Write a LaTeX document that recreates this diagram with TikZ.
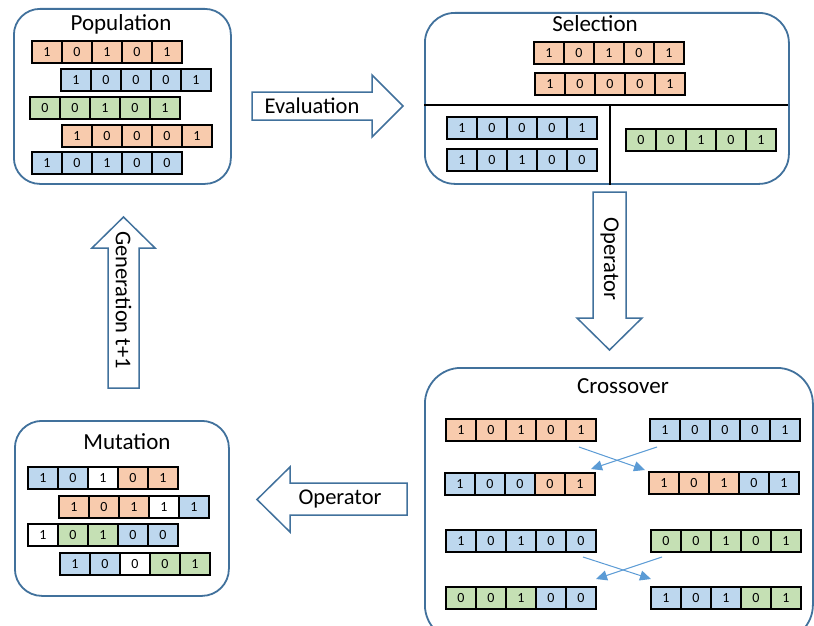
\documentclass[tikz,border=0pt]{standalone}
\usepackage{fontspec}
\setmainfont{Carlito}
\usetikzlibrary{arrows.meta}
\definecolor{cor}{HTML}{F8CBAD}
\definecolor{cbl}{HTML}{BDD7EE}
\definecolor{cgr}{HTML}{C5E0B4}
\definecolor{cwh}{HTML}{FFFFFF}
\definecolor{frame}{HTML}{41719C}
\definecolor{xarrow}{HTML}{5B9BD5}
\newcommand\chromo[4]{%
  \foreach \cl/\dg [count=\i] in {#4}{%
    \node[cell, fill=\cl] (#1-\i) at ({#2+15+30*(\i-1)},{#3+11}) {\dg};
  }%
}
\begin{document}
\begin{tikzpicture}[x=1pt,y=-1pt,
 cell/.style={draw=black, line width=1.6pt, minimum width=30pt, minimum height=22pt, inner sep=0pt, font=\fontsize{14}{15}\selectfont},
 panel/.style={draw=frame, line width=1.8pt, fill=white, anchor=north west, inner sep=0pt},
 title/.style={font=\fontsize{23}{26}\selectfont, inner sep=0pt},
 arrowlabel/.style={font=\fontsize{22.5}{25}\selectfont, inner sep=0pt},
 blockarrow/.style={draw=frame, line width=1.5pt, fill=white, line join=miter},
 xover/.style={draw=xarrow, line width=1pt, -{Triangle[length=11pt,width=10pt]}},
 divider/.style={draw=black, line width=2pt}]
\useasboundingbox (0,0) rectangle (814,626);
\clip (0,0) rectangle (814,626);

% panels
\node[panel, rounded corners=26pt, minimum width=217pt, minimum height=175pt] (pop) at (13,8) {};
\node[panel, rounded corners=30pt, minimum width=364pt, minimum height=171pt] (sel) at (424,12) {};
\node[panel, rounded corners=36pt, minimum width=388pt, minimum height=273pt] (cro) at (424,367) {};
\node[panel, rounded corners=27pt, minimum width=214pt, minimum height=175pt] (mut) at (14,420) {};

\node[title] (poptitle) at (121,24) {Population};
\node[title] (seltitle) at (595,24) {Selection};
\node[title] (crotitle) at (623,386) {Crossover};
\node[title] (muttitle) at (127,442) {Mutation};

% selection dividers
\coordinate (divl) at (424,104.5);
\coordinate (divr) at (788,104.5);
\coordinate (divm) at (610,104.5);
\draw[divider] (divl) -- (divr);
\draw[divider] (divm) -- (divm |- sel.south);

% block arrows
\draw[blockarrow] (252,92) -- (372,92) -- (372,75) -- (403,106) -- (372,137) -- (372,120) -- (252,120) -- cycle;
\node[arrowlabel] (evallabel) at (312,106) {Evaluation};

\draw[blockarrow] (108,388) -- (108,248) -- (92,248) -- (123.5,217) -- (155,248) -- (139,248) -- (139,388) -- cycle;
\node[arrowlabel, rotate=-90] (genlabel) at (123.5,300) {Generation t+1};

\draw[blockarrow] (593,192) -- (626,192) -- (626,318) -- (642,318) -- (609.5,350) -- (577,318) -- (593,318) -- cycle;
\node[arrowlabel, rotate=-90] (oplabel1) at (609.5,259) {Operator};

\draw[blockarrow] (407,483) -- (290,483) -- (290,467) -- (257,499.5) -- (290,532) -- (290,515) -- (407,515) -- cycle;
\node[arrowlabel] (oplabel2) at (340,499) {Operator};

% population
\chromo{p1}{32}{41}{cor/1,cor/0,cor/1,cor/0,cor/1}
\chromo{p2}{61}{69}{cbl/1,cbl/0,cbl/0,cbl/0,cbl/1}
\chromo{p3}{30}{97}{cgr/0,cgr/0,cgr/1,cgr/0,cgr/1}
\chromo{p4}{62}{125}{cor/1,cor/0,cor/0,cor/0,cor/1}
\chromo{p5}{32}{152}{cbl/1,cbl/0,cbl/1,cbl/0,cbl/0}

% selection
\chromo{s1}{534}{42}{cor/1,cor/0,cor/1,cor/0,cor/1}
\chromo{s2}{535}{73}{cor/1,cor/0,cor/0,cor/0,cor/1}
\chromo{s3}{447}{117}{cbl/1,cbl/0,cbl/0,cbl/0,cbl/1}
\chromo{s4}{447}{149}{cbl/1,cbl/0,cbl/1,cbl/0,cbl/0}
\chromo{s5}{626}{129}{cgr/0,cgr/0,cgr/1,cgr/0,cgr/1}

% crossover
\chromo{c1}{446}{419}{cor/1,cor/0,cor/1,cor/0,cor/1}
\chromo{c2}{650}{419}{cbl/1,cbl/0,cbl/0,cbl/0,cbl/1}
\chromo{c3}{445}{473}{cbl/1,cbl/0,cbl/0,cor/0,cor/1}
\chromo{c4}{649}{472}{cor/1,cor/0,cor/1,cbl/0,cbl/1}
\chromo{c5}{446}{530}{cbl/1,cbl/0,cbl/1,cbl/0,cbl/0}
\chromo{c6}{651}{530}{cgr/0,cgr/0,cgr/1,cgr/0,cgr/1}
\chromo{c7}{446}{587}{cgr/0,cgr/0,cgr/1,cbl/0,cbl/0}
\chromo{c8}{651}{587}{cbl/1,cbl/0,cbl/1,cgr/0,cgr/1}

\coordinate (a1s) at (579,447); \coordinate (a1e) at (645,470);
\coordinate (a2s) at (657,447); \coordinate (a2e) at (591,469);
\coordinate (a3s) at (583,557); \coordinate (a3e) at (651,579);
\coordinate (a4s) at (662,557); \coordinate (a4e) at (596,579);
\draw[xover] (a1s) -- (a1e);
\draw[xover] (a2s) -- (a2e);
\draw[xover] (a3s) -- (a3e);
\draw[xover] (a4s) -- (a4e);

% mutation
\chromo{m1}{28}{467}{cbl/1,cbl/0,cwh/1,cor/0,cor/1}
\chromo{m2}{59}{496}{cor/1,cor/0,cor/1,cwh/1,cbl/1}
\chromo{m3}{28}{524}{cwh/1,cgr/0,cgr/1,cbl/0,cbl/0}
\chromo{m4}{60}{553}{cbl/1,cbl/0,cwh/0,cgr/0,cgr/1}
\end{tikzpicture}
\end{document}
